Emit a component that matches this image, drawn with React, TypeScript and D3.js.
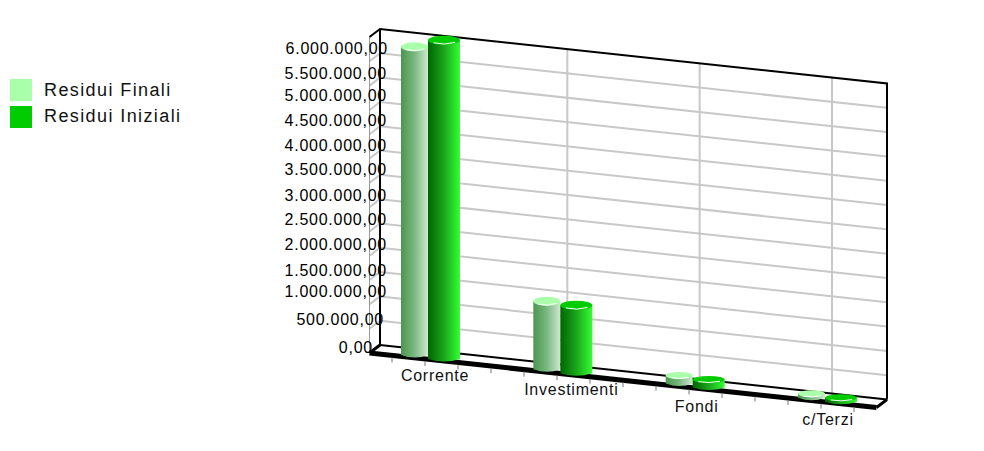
import React from "react";
import * as d3 from "d3";

const categories = ["Corrente", "Investimenti", "Fondi", "c/Terzi"];
const seriesNames = ["Residui Finali", "Residui Iniziali"];
const residuiFinali = [6380000, 1440000, 205000, 120000];
const residuiIniziali = [6600000, 1440000, 205000, 120000];
const yTickValues = d3.range(0, 6500000, 500000);
const labelNudge = [0, 3, 6, 2, 3, 3, 3, 4, 3, 3, 3, 0, 0];
const labelRight = [373, 384, 387, 387, 387, 387, 387, 387, 387, 387, 387, 387, 388];
const fmt = (v: number) =>
  v.toFixed(2).replace(".", ",").replace(/\B(?=(\d{3})+(?!\d))/g, ".");

const FONT = "'Liberation Sans', Arial, sans-serif";
const slope = 0.1075;
const wallX0 = 380, wallX1 = 887, wallY0 = 345;
const depthX = -10.5, depthY = 8;
const yH = d3.scaleLinear().domain([0, 6500000]).range([0, 316]);
const xCat = d3.scalePoint<string>().domain(categories).range([428, 825]);
const wallY = (x: number, v: number) => wallY0 + (x - wallX0) * slope - yH(v);
const lblY = d3.scaleLinear().domain([0, 6000000]).range([347, 48]);
const colors = [
  { top: "#aaffaa", id: "gFin", stops: ["#4a9650", "#7ab880", "#cfe8cf"] },
  { top: "#00cc00", id: "gIni", stops: ["#006600", "#1aa61a", "#33ff33"] },
];
const barGeom = [
  { dx: -27, w: 27, base: 0 },
  { dx: 0, w: 32, base: 4 },
];
const xTicks = d3.range(0, 15).map((i) => 392 + i * 33);
const catLabelY = [380, 394, 411, 424];
const catLabelDx = [7, 11, 4, 3];

export default function App() {
  const series = [residuiFinali, residuiIniziali];
  const fx0 = wallX0 + depthX, fx1 = wallX1 + depthX;
  const floorY = (x: number) => wallY0 + depthY + (x - fx0) * slope;
  return (
    <svg width={984} height={451} style={{ position: "absolute", left: 0, top: 0, background: "#fff" }}>
      <defs>
        {colors.map((c) => (
          <linearGradient key={c.id} id={c.id} x1="0" x2="1" y1="0" y2="0">
            <stop offset="0" stopColor={c.stops[0]} />
            <stop offset="0.5" stopColor={c.stops[1]} />
            <stop offset="1" stopColor={c.stops[2]} />
          </linearGradient>
        ))}
      </defs>
      {d3.range(1, 13).map((i) => {
        const v = i * 500000;
        return (
          <g key={i} stroke="#c8c8c8" strokeWidth={2} fill="none">
            <line x1={wallX0} y1={wallY(wallX0, v)} x2={wallX1} y2={wallY(wallX1, v)} />
            <line x1={wallX0} y1={wallY(wallX0, v)} x2={fx0} y2={wallY(wallX0, v) + depthY} />
          </g>
        );
      })}
      <line x1={fx0} x2={fx0} y1={wallY(wallX0, 6500000) + depthY} y2={floorY(fx0)} stroke="#999" strokeWidth={1} />
      {categories.map((c) => {
        const x = xCat(c)! + 7;
        return <line key={c} x1={x} x2={x} y1={wallY(x, 6500000)} y2={wallY(x, 0)} stroke="#c8c8c8" strokeWidth={2} />;
      })}
      <path
        d={`M${fx0},${wallY(wallX0, 6500000) + depthY}L${wallX0},${wallY(wallX0, 6500000)}L${wallX1},${wallY(wallX1, 6500000)}L${wallX1},${wallY(wallX1, 0)}`}
        fill="none" stroke="#000" strokeWidth={2}
      />
      <line x1={wallX0} x2={wallX0} y1={wallY(wallX0, 6500000)} y2={wallY(wallX0, 0)} stroke="#000" strokeWidth={2} />
      <line x1={wallX0} y1={wallY(wallX0, 0)} x2={wallX1} y2={wallY(wallX1, 0)} stroke="#000" strokeWidth={2} />
      <line x1={wallX0} y1={wallY(wallX0, 0)} x2={fx0} y2={floorY(fx0)} stroke="#000" strokeWidth={3} />
      <line x1={wallX1} y1={wallY(wallX1, 0)} x2={fx1} y2={floorY(fx1)} stroke="#000" strokeWidth={3} />
      <line x1={fx0} y1={floorY(fx0)} x2={fx1} y2={floorY(fx1)} stroke="#000" strokeWidth={5} />
      {xTicks.map((x) => (
        <line key={x} x1={x} x2={x} y1={floorY(x) + 2} y2={floorY(x) + 7} stroke="#777" strokeWidth={1} />
      ))}
      {categories.map((c, ci) =>
        series.map((vals, si) => {
          const g = barGeom[si];
          const x = xCat(c)! + g.dx;
          const bottom = 357 + (xCat(c)! - 428) * slope + g.base;
          const h = yH(vals[ci]);
          const top = bottom - h;
          const rx = g.w / 2, ry = h < 12 ? 3.5 : 4.5;
          return (
            <g key={c + si}>
              <path
                d={`M${x},${top}L${x},${bottom - 2}Q${x + rx},${bottom + 3} ${x + g.w},${bottom - 2}L${x + g.w},${top}Z`}
                fill={`url(#${colors[si].id})`}
              />
              <ellipse cx={x + rx} cy={top} rx={rx} ry={ry} fill={colors[si].top} />
              <path
                d={`M${x + rx * 0.35},${top + ry * 0.6}Q${x + rx},${top + ry * 1.2} ${x + g.w * 0.85},${top + ry * 0.5}`}
                fill="none" stroke="#fff" strokeWidth={1}
              />
            </g>
          );
        })
      )}
      <g fontFamily={FONT} fontSize={16} letterSpacing={0.75} fill="#000">
        {yTickValues.map((v, i) => (
          <text key={v} x={labelRight[i]} y={lblY(v) - labelNudge[i] + 6} textAnchor="end">
            {fmt(v)}
          </text>
        ))}
        {categories.map((c, i) => (
          <text key={c} x={xCat(c)! + catLabelDx[i]} y={catLabelY[i] + 1} textAnchor="middle" fill="#111">
            {c}
          </text>
        ))}
      </g>
      {seriesNames.map((n, i) => (
        <g key={n}>
          <rect x={10} y={79 + i * 27} width={22} height={22} fill={colors[i].top} />
          <text x={44} y={96 + i * 27 - i} fontFamily={FONT} fontSize={18} letterSpacing={1.4} fill="#111">
            {n}
          </text>
        </g>
      ))}
    </svg>
  );
}
